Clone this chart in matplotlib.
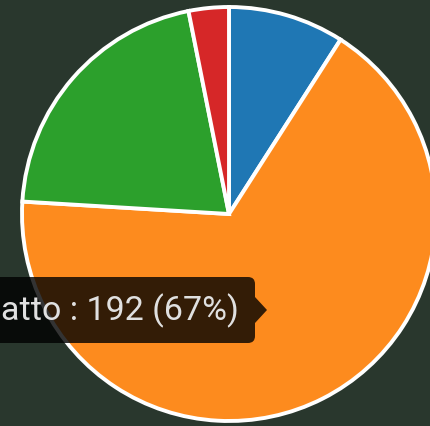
import matplotlib.pyplot as plt
from matplotlib.patches import FancyBboxPatch, Polygon

labels = ["Cane", "atto", "Pesce", "Uccello"]   # hovered label is cut at the left in the source
values = [26, 192, 60, 9]
colors = ["#1f77b4", "#fd8b1e", "#2ca02c", "#d62728"]
hover_index = 1

W, H = 431, 426
fig = plt.figure(figsize=(W / 100, H / 100), dpi=100)
fig.patch.set_facecolor("#29372d")
ax = fig.add_axes([0, 0, 1, 1])
ax.set_facecolor("#29372d")

# pie, clockwise from 12 o'clock
ax.pie(values, colors=colors, startangle=90, counterclock=False,
       center=(229, H - 214), radius=207, frame=True,
       wedgeprops=dict(edgecolor="white", linewidth=2.8))
ax.set_xlim(0, W)
ax.set_ylim(0, H)
ax.set_aspect("equal")
ax.axis("off")

# tooltip (partly off the left edge)
total = sum(values)
pct = round(values[hover_index] / total * 100)
y0, y1 = H - 343, H - 277
box = FancyBboxPatch((-20, y0), 275, y1 - y0,
                     boxstyle="round,pad=0,rounding_size=7",
                     facecolor="black", edgecolor="none", alpha=0.8, zorder=5)
ax.add_patch(box)
ym = (y0 + y1) / 2
ax.add_patch(Polygon([(255, ym + 13), (267, ym), (255, ym - 13)],
                     closed=True, facecolor="black", edgecolor="none",
                     alpha=0.8, zorder=5))
ax.text(1, ym - 1, f"{labels[hover_index]} : {values[hover_index]} ({pct}%)",
        ha="left", va="center", color="#e0e0e0", fontsize=24.5,
        family="Roboto", zorder=6)

fig.savefig("out.png", dpi=100, facecolor=fig.get_facecolor())
